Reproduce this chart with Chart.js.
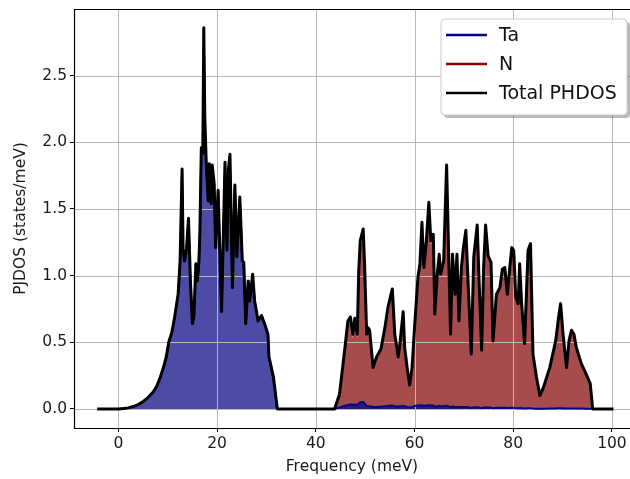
<!DOCTYPE html>
<html>
<head>
<meta charset="utf-8">
<title>PJDOS</title>
<script src="https://cdn.jsdelivr.net/npm/chart.js@4.4.1/dist/chart.umd.min.js"></script>
<style>
  html, body { margin: 0; padding: 0; background: #fff; }
</style>
</head>
<body>
<canvas id="pjdos" width="630" height="479"></canvas>
<script>
// frequency grid (meV): acoustic band, gap, optical band
const freq = [
  -4, 0, 1, 2, 3, 4, 5, 6, 7, 7.7,
  8.5, 9.2, 9.7, 10.2, 10.8, 11.4, 12.1, 12.5, 12.9, 13.1,
  13.4, 13.8, 14.2, 14.6, 15.0, 15.3, 15.7, 16.0, 16.3, 16.5,
  16.8, 17.1, 17.3, 17.5, 17.8, 18.2, 18.4, 18.8, 19.0, 19.4,
  19.7, 20.2, 20.9, 21.6, 22.0, 22.3, 22.6, 23.1, 23.6, 24.0,
  24.6, 25.1, 25.4, 25.8, 26.3, 26.6, 27.2, 27.6, 28.3, 29.0,
  29.7, 30.3, 30.5, 31.4, 32.2,
  43.8, 44.8, 45.9, 46.5, 47.0, 47.5, 47.9, 48.4, 48.7, 49.0,
  49.6, 49.9, 50.3, 50.6, 50.9, 51.6, 52.3, 53.2, 54.0, 54.6,
  55.5, 56.0, 56.7, 57.1, 57.7, 58.0, 58.5, 59.0, 59.5, 60.0,
  60.7, 61.1, 61.5, 61.9, 62.4, 62.9, 63.3, 63.8, 64.1, 64.6,
  65.0, 65.3, 65.9, 66.5, 66.9, 67.3, 67.7, 68.2, 68.6, 69.0,
  69.5, 69.9, 70.4, 70.9, 71.5, 72.0, 72.7, 73.1, 73.6, 74.0,
  74.4, 74.9, 75.5, 75.9, 76.6, 77.3, 77.8, 78.3, 78.8, 79.3,
  79.7, 80.1, 80.5, 81.0, 81.3, 81.7, 82.3, 83.0, 83.5, 84.0,
  84.7, 85.4, 86.1, 87.4, 88.6, 89.2, 89.6, 90.1, 90.8, 91.3,
  91.8, 92.3, 92.8, 93.8, 94.8, 95.6, 96.1, 100
];

const dosTa = [
  0, 0, 0.003, 0.008, 0.018, 0.032, 0.055, 0.085, 0.125, 0.165,
  0.24, 0.32, 0.39, 0.50, 0.57, 0.69, 0.86, 1.11, 1.79, 1.20,
  1.11, 1.20, 1.42, 0.95, 0.64, 0.70, 1.09, 0.96, 1.10, 1.31,
  1.95, 1.91, 2.85, 2.18, 1.83, 1.56, 1.83, 1.54, 1.82, 1.69,
  1.21, 1.63, 0.73, 1.84, 1.19, 1.79, 1.90, 0.91, 1.67, 1.14,
  1.58, 1.11, 1.10, 0.64, 0.96, 0.81, 1.01, 0.81, 0.66, 0.70,
  0.63, 0.56, 0.39, 0.24, 0,
  0, 0.012, 0.025, 0.030, 0.035, 0.030, 0.033, 0.030, 0.040, 0.050,
  0.052, 0.040, 0.022, 0.020, 0.020, 0.015, 0.015, 0.018, 0.020, 0.022,
  0.025, 0.020, 0.018, 0.020, 0.022, 0.020, 0.015, 0.012, 0.015, 0.022,
  0.025, 0.025, 0.028, 0.022, 0.025, 0.028, 0.025, 0.025, 0.018, 0.020,
  0.022, 0.020, 0.020, 0.025, 0.020, 0.012, 0.018, 0.015, 0.015, 0.012,
  0.015, 0.015, 0.015, 0.012, 0.008, 0.012, 0.012, 0.010, 0.006, 0.010,
  0.012, 0.010, 0.010, 0.006, 0.008, 0.008, 0.008, 0.008, 0.007, 0.008,
  0.008, 0.008, 0.006, 0.006, 0.007, 0.006, 0.004, 0.006, 0.006, 0.003,
  0.002, 0.002, 0.002, 0.003, 0.004, 0.005, 0.005, 0.004, 0.003, 0.004,
  0.004, 0.004, 0.003, 0.003, 0.002, 0.002, 0, 0
];

const dosN = [
  0, 0, 0, 0, 0, 0, 0, 0, 0, 0,
  0, 0, 0, 0, 0, 0, 0, 0, 0, 0,
  0, 0, 0, 0, 0, 0, 0, 0, 0, 0,
  0, 0, 0, 0, 0, 0, 0, 0, 0, 0,
  0, 0, 0, 0, 0, 0, 0, 0, 0, 0,
  0, 0, 0, 0, 0, 0, 0, 0, 0, 0,
  0, 0, 0, 0, 0,
  0, 0.098, 0.435, 0.630, 0.655, 0.530, 0.647, 0.530, 1.000, 1.210,
  1.298, 1.020, 0.538, 0.590, 0.570, 0.295, 0.375, 0.432, 0.590, 0.738,
  0.875, 0.540, 0.372, 0.490, 0.708, 0.440, 0.295, 0.168, 0.295, 0.588,
  0.965, 1.065, 1.372, 1.038, 1.235, 1.522, 1.235, 1.285, 0.692, 0.990,
  1.138, 0.990, 1.090, 1.805, 1.170, 0.548, 1.142, 0.845, 1.145, 0.648,
  1.045, 1.195, 1.325, 0.898, 0.402, 1.128, 1.368, 0.930, 0.434, 1.050,
  1.368, 1.140, 1.090, 0.504, 0.852, 0.902, 1.042, 1.052, 0.853, 1.052,
  1.202, 1.182, 0.834, 0.784, 1.083, 0.784, 0.486, 1.184, 1.234, 0.407,
  0.238, 0.098, 0.158, 0.307, 0.506, 0.685, 0.785, 0.556, 0.307, 0.506,
  0.586, 0.556, 0.457, 0.337, 0.258, 0.188, 0, 0
];

const dosTotal = [
  0, 0, 0.003, 0.008, 0.018, 0.032, 0.055, 0.085, 0.125, 0.165,
  0.24, 0.32, 0.39, 0.50, 0.57, 0.69, 0.86, 1.11, 1.80, 1.20,
  1.11, 1.20, 1.43, 0.95, 0.64, 0.70, 1.09, 0.96, 1.10, 1.31,
  1.96, 1.92, 2.86, 2.19, 1.84, 1.56, 1.84, 1.54, 1.83, 1.69,
  1.21, 1.64, 0.73, 1.85, 1.19, 1.80, 1.91, 0.91, 1.68, 1.14,
  1.59, 1.11, 1.10, 0.64, 0.96, 0.81, 1.01, 0.81, 0.66, 0.70,
  0.63, 0.56, 0.39, 0.24, 0,
  0, 0.11, 0.46, 0.66, 0.69, 0.56, 0.68, 0.56, 1.04, 1.26,
  1.35, 1.06, 0.56, 0.61, 0.59, 0.31, 0.39, 0.45, 0.61, 0.76,
  0.90, 0.56, 0.39, 0.51, 0.73, 0.46, 0.31, 0.18, 0.31, 0.61,
  0.99, 1.09, 1.40, 1.06, 1.26, 1.55, 1.26, 1.31, 0.71, 1.01,
  1.16, 1.01, 1.11, 1.83, 1.19, 0.56, 1.16, 0.86, 1.16, 0.66,
  1.06, 1.21, 1.34, 0.91, 0.41, 1.14, 1.38, 0.94, 0.44, 1.06,
  1.38, 1.15, 1.10, 0.51, 0.86, 0.91, 1.05, 1.06, 0.86, 1.06,
  1.21, 1.19, 0.84, 0.79, 1.09, 0.79, 0.49, 1.19, 1.24, 0.41,
  0.24, 0.10, 0.16, 0.31, 0.51, 0.69, 0.79, 0.56, 0.31, 0.51,
  0.59, 0.56, 0.46, 0.34, 0.26, 0.19, 0, 0
];

const xTicks = [0, 20, 40, 60, 80, 100];
const yTicks = [0, 0.5, 1.0, 1.5, 2.0, 2.5];

const TA_COLOR = '#00008b';
const N_COLOR = '#8b0000';
const FONT = '"DejaVu Sans", sans-serif';

Chart.defaults.font.family = FONT;
Chart.defaults.font.size = 15.5;
Chart.defaults.color = '#1a1a1a';

const toPoints = ys => freq.map((f, i) => ({x: f, y: ys[i]}));

// matplotlib-style grid: drawn over the filled areas, under the lines
const gridOverFill = {
  id: 'gridOverFill',
  afterDatasetDraw(chart, args) {
    if (args.index !== 2) return;
    const {ctx, chartArea: a, scales: {x, y}} = chart;
    ctx.save();
    ctx.strokeStyle = '#b8b8b8';
    ctx.lineWidth = 1;
    ctx.beginPath();
    xTicks.forEach(v => {
      const px = Math.round(x.getPixelForValue(v)) + 0.5;
      ctx.moveTo(px, a.top);
      ctx.lineTo(px, a.bottom);
    });
    yTicks.forEach(v => {
      const py = Math.round(y.getPixelForValue(v)) + 0.5;
      ctx.moveTo(a.left, py);
      ctx.lineTo(a.right, py);
    });
    ctx.stroke();
    ctx.restore();
  }
};

function roundRectPath(ctx, x, y, w, h, r) {
  ctx.beginPath();
  ctx.moveTo(x + r, y);
  ctx.lineTo(x + w - r, y);
  ctx.arcTo(x + w, y, x + w, y + r, r);
  ctx.lineTo(x + w, y + h - r);
  ctx.arcTo(x + w, y + h, x + w - r, y + h, r);
  ctx.lineTo(x + r, y + h);
  ctx.arcTo(x, y + h, x, y + h - r, r);
  ctx.lineTo(x, y + r);
  ctx.arcTo(x, y, x + r, y, r);
  ctx.closePath();
}

// axes frame and the boxed legend with drop shadow
const frameAndLegend = {
  id: 'frameAndLegend',
  afterDraw(chart) {
    const {ctx, chartArea: a} = chart;
    ctx.save();
    ctx.strokeStyle = '#000';
    ctx.lineWidth = 1.2;
    ctx.beginPath();
    ctx.moveTo(a.right, a.top + 0.5);
    ctx.lineTo(a.left + 0.5, a.top + 0.5);
    ctx.lineTo(a.left + 0.5, a.bottom + 0.5);
    ctx.lineTo(a.right, a.bottom + 0.5);
    ctx.stroke();

    const items = chart.data.datasets
      .filter(d => d.legendRank !== undefined)
      .sort((p, q) => p.legendRank - q.legendRank);
    const bx = a.right - 189, by = a.top + 10, bw = 186, bh = 96;
    ctx.fillStyle = 'rgba(80,80,80,0.4)';
    roundRectPath(ctx, bx + 3, by + 3, bw, bh, 4);
    ctx.fill();
    ctx.fillStyle = '#fff';
    roundRectPath(ctx, bx, by, bw, bh, 4);
    ctx.fill();
    ctx.strokeStyle = '#cccccc';
    ctx.lineWidth = 1;
    ctx.stroke();

    ctx.font = '19px ' + FONT;
    ctx.textBaseline = 'middle';
    ctx.textAlign = 'left';
    items.forEach((d, i) => {
      const cy = by + 16 + i * 29;
      ctx.strokeStyle = d.borderColor;
      ctx.lineWidth = 2.6;
      ctx.lineCap = 'butt';
      ctx.beginPath();
      ctx.moveTo(bx + 5, cy);
      ctx.lineTo(bx + 46, cy);
      ctx.stroke();
      ctx.fillStyle = '#111';
      ctx.fillText(d.label, bx + 58, cy + 1);
    });
    ctx.restore();
  }
};

new Chart(document.getElementById('pjdos'), {
  type: 'line',
  data: {
    datasets: [
      {label: 'Total PHDOS', data: toPoints(dosTotal), borderColor: '#000', borderWidth: 3,
        pointRadius: 0, tension: 0, borderJoinStyle: 'round', borderCapStyle: 'square',
        fill: false, order: 0, legendRank: 2},
      {label: 'Ta', data: toPoints(dosTa), borderColor: TA_COLOR, borderWidth: 2,
        pointRadius: 0, tension: 0, borderJoinStyle: 'round',
        backgroundColor: 'rgba(0,0,128,0.7)', fill: false, order: 1, legendRank: 0},
      {label: 'Ta area', data: toPoints(dosTa), borderWidth: 0, pointRadius: 0, tension: 0,
        backgroundColor: 'rgba(0,0,128,0.7)', fill: 'origin', order: 3},
      {label: 'N', data: toPoints(dosN), borderColor: N_COLOR, borderWidth: 0, pointRadius: 0,
        tension: 0, backgroundColor: 'rgba(128,0,0,0.7)', fill: 'origin', order: 4, legendRank: 1}
    ]
  },
  options: {
    responsive: false,
    animation: false,
    layout: {padding: {top: 9, left: 0, right: 0, bottom: 0}},
    plugins: {
      legend: {display: false},
      tooltip: {enabled: false}
    },
    scales: {
      x: {
        type: 'linear',
        min: -9.0,
        max: 103.66,
        afterBuildTicks: s => { s.ticks = xTicks.map(v => ({value: v})); },
        afterFit: s => { s.height = 51; s.paddingLeft = 0; s.paddingRight = 0; },
        grid: {drawOnChartArea: false, tickColor: '#000', tickLength: 4, tickWidth: 1},
        border: {display: false},
        ticks: {padding: 3, maxRotation: 0, autoSkip: false, callback: v => String(v)},
        title: {display: true, text: 'Frequency (meV)', padding: {top: 0, bottom: 2.5}}
      },
      y: {
        min: -0.143,
        max: 3.0,
        afterBuildTicks: s => { s.ticks = yTicks.map(v => ({value: v})); },
        afterFit: s => { s.width = 74; s.paddingTop = 0; s.paddingBottom = 0; },
        grid: {drawOnChartArea: false, tickColor: '#000', tickLength: 4, tickWidth: 1},
        border: {display: false},
        ticks: {padding: 3, autoSkip: false, callback: v => v.toFixed(1)},
        title: {display: true, text: 'PJDOS (states/meV)', padding: {top: 12, bottom: 0}}
      }
    }
  },
  plugins: [gridOverFill, frameAndLegend]
});
</script>
</body>
</html>
